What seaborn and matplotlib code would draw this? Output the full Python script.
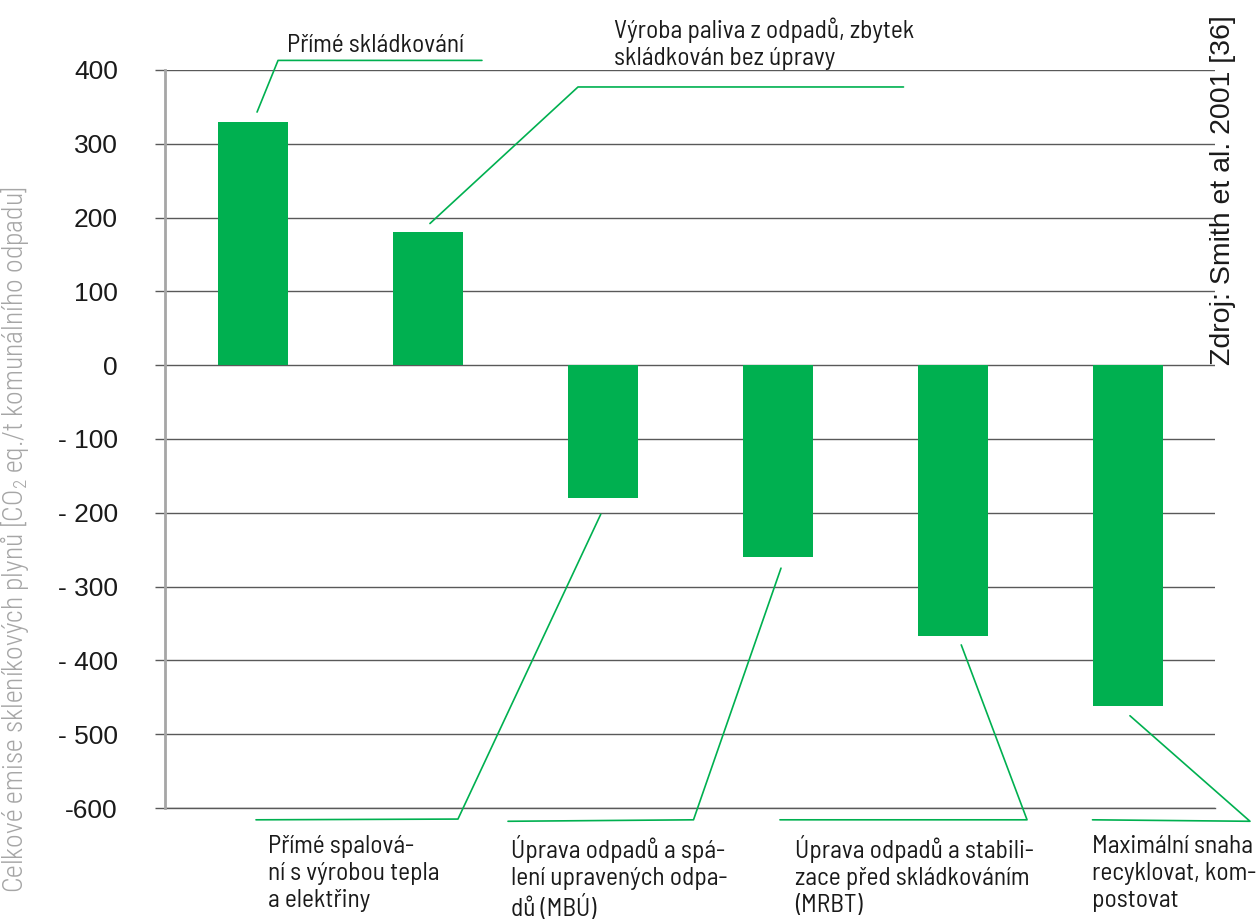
import matplotlib
matplotlib.use("Agg")
import matplotlib.pyplot as plt
import seaborn as sns
import pandas as pd

# ---- data ----
categories = [
    "Přímé skládkování",
    "Výroba paliva z odpadů, zbytek\nskládkován bez úpravy",
    "Přímé spalová-\nní s výrobou tepla\na elektřiny",
    "Úprava odpadů a spá-\nlení upravených odpa-\ndů (MBÚ)",
    "Úprava odpadů a stabili-\nzace před skládkováním\n(MRBT)",
    "Maximální snaha\nrecyklovat, kom-\npostovat",
]
values = [330, 180, -180, -260, -367, -462]
y_ticks = [400, 300, 200, 100, 0, -100, -200, -300, -400, -500, -600]
y_tick_labels = ["400", "300", "200", "100", "0", "- 100", "- 200", "- 300", "- 400", "- 500", "-600"]
y_label = "Celkové emise skleníkových plynů [CO$_2$ eq./t komunálního odpadu]"
source = "Zdroj: Smith et al. 2001 [36]"

GREEN = "#00b050"
SEMI = ["Barlow Semi Condensed", "Roboto Condensed", "Archivo Narrow", "DejaVu Sans"]
COND = ["Roboto Condensed", "Archivo Narrow", "DejaVu Sans"]

sns.set_theme(style="white")
plt.rcParams["font.family"] = ["Liberation Sans", "DejaVu Sans"]
plt.rcParams["mathtext.fontset"] = "custom"
plt.rcParams["mathtext.rm"] = "Roboto Condensed:light"
plt.rcParams["mathtext.it"] = "Roboto Condensed:light"

W, H = 1258, 921
fig = plt.figure(figsize=(W / 100, H / 100), dpi=100)
ax = fig.add_axes([165 / W, 1 - 808 / H, (1215 - 165) / W, (808 - 70) / H])

df = pd.DataFrame({"cat": categories, "val": values})
sns.barplot(data=df, x="cat", y="val", color=GREEN, saturation=1, width=0.4,
            ax=ax, zorder=3)
for p in ax.patches:
    p.set_edgecolor("none")

ax.set_xlim(-0.5, len(categories) - 0.5)
ax.set_ylim(-600, 400)
ax.set_yticks(y_ticks)
ax.set_yticklabels(y_tick_labels, fontsize=19, color="#1a1a1a")
ax.tick_params(axis="y", which="both", left=True, length=7, width=1,
               color="#595959", pad=27)
ax.set_xticks([])
ax.set_xlabel("")
ax.set_ylabel("")
ax.yaxis.grid(True, color="#595959", linewidth=1)
ax.set_axisbelow(True)
for s in ["top", "right"]:
    ax.spines[s].set_visible(False)
ax.spines["bottom"].set_color("#595959")
ax.spines["bottom"].set_linewidth(1)
ax.spines["left"].set_color("#a6a6a6")
ax.spines["left"].set_linewidth(2)
ax.spines["left"].set_zorder(4)

# leader lines: (dx from bar centre, dy from bar end) then elbow & end points
leaders = [
    [(0.026, 13), (0.146, 413), (1.311, 413)],
    [(0.014, 12), (0.86, 377), (2.72, 377)],
    [(-0.01, -22), (-0.826, -615), (-1.98, -616)],
    [(0.02, -15), (-0.48, -616), (-1.54, -618)],
    [(0.05, -12), (0.426, -616), (-0.986, -616)],
    [(0.014, -13), (0.70, -618), (-0.20, -616)],
]
for i, pts in enumerate(leaders):
    (dx0, dy0), (dx1, y1), (dx2, y2) = pts
    xs = [i + dx0, i + dx1, i + dx2]
    ys = [values[i] + dy0, y1, y2]
    ax.plot(xs, ys, color=GREEN, lw=1.2, clip_on=False, zorder=5)

# category labels
label_pos = [
    (0.197, 424, "baseline"),
    (1.066, 471, "top"),
    (-1.911, -636, "top"),
    (-1.523, -636, "top"),
    (-0.90, -636, "top"),
    (-0.20, -636, "top"),
]
for i, (dx, y, va) in enumerate(label_pos):
    ax.text(i + dx, y, categories[i], ha="left", va=va, fontsize=18.3,
            family=SEMI, color="#1a1a1a", linespacing=1.23, clip_on=False)

fig.text(15 / W, 1 - 540 / H, y_label, rotation=90, ha="center", va="center",
         fontsize=19.8, family=COND, fontweight="light", color="#a6a6a6")
fig.text(1223 / W, 1 - 190 / H, source, rotation=90, ha="center", va="center",
         fontsize=20.5, color="#1a1a1a")

fig.savefig("out.png", dpi=100)
